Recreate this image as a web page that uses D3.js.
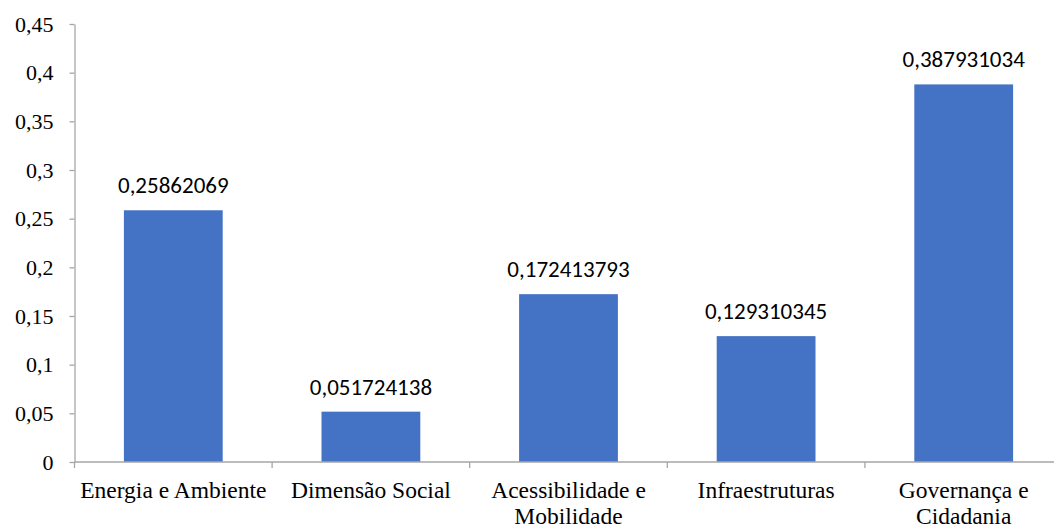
<!DOCTYPE html>
<html>
<head>
<meta charset="utf-8">
<script src="https://cdn.jsdelivr.net/npm/d3@7"></script>
</head>
<body style="margin:0;background:#fff">
<svg id="chart" width="1054" height="527"></svg>
<script>
// Category names (line breaks where the label wraps)
const categories = [
  ["Energia e Ambiente"],
  ["Dimensão Social"],
  ["Acessibilidade e", "Mobilidade"],
  ["Infraestruturas"],
  ["Governança e", "Cidadania"]
];
// Share of each dimension
const values = [0.25862069, 0.051724138, 0.172413793, 0.129310345, 0.387931034];
// Printed value labels
const valueLabels = ["0,25862069", "0,051724138", "0,172413793", "0,129310345", "0,387931034"];
// Y axis ticks
const yTicks = [0, 0.05, 0.1, 0.15, 0.2, 0.25, 0.3, 0.35, 0.4, 0.45];
const yTickLabels = ["0", "0,05", "0,1", "0,15", "0,2", "0,25", "0,3", "0,35", "0,4", "0,45"];

const svg = d3.select("#chart");
const plotLeft = 74.5, plotTop = 24, plotBottom = 462, step = 197.6;
const axisColor = "#a6a6a6";
const serifFamily = "'Liberation Serif', Tinos, 'Times New Roman', Times, serif";

const keys = categories.map((c, i) => i);
const x = d3.scaleBand()
  .domain(keys)
  .range([plotLeft, plotLeft + step * keys.length])
  .paddingInner(0.5)
  .paddingOuter(0.25);

const y = d3.scaleLinear().domain([0, 0.45]).range([plotBottom, plotTop]);

// Y axis
const yAxis = d3.axisLeft(y)
  .tickValues(yTicks)
  .tickFormat((d, i) => yTickLabels[i])
  .tickSize(5)
  .tickPadding(16)
  .tickSizeOuter(0);
const gy = svg.append("g").attr("transform", `translate(${plotLeft},0)`).call(yAxis)
  .attr("font-family", serifFamily)
  .attr("font-size", 22);
gy.select(".domain").attr("stroke", axisColor).attr("stroke-width", 1.3);
gy.selectAll(".tick line").attr("stroke", axisColor).attr("stroke-width", 1.3);
gy.selectAll(".tick text")
  .attr("fill", "#000")
  .attr("font-family", serifFamily)
  .style("font-family", serifFamily);

// Bars
svg.append("g").selectAll("rect")
  .data(values)
  .join("rect")
  .attr("x", (d, i) => x(i))
  .attr("width", x.bandwidth())
  .attr("y", d => y(d))
  .attr("height", d => y(0) - y(d))
  .attr("fill", "#4472C4");

// X axis: baseline and boundary ticks
const xEdges = d3.range(keys.length + 1).map(i => x(0) - x.step() * 0.25 + i * x.step());
svg.append("line")
  .attr("x1", plotLeft).attr("x2", 1054)
  .attr("y1", y(0)).attr("y2", y(0))
  .attr("stroke", axisColor).attr("stroke-width", 1.3);
svg.append("g").selectAll("line")
  .data(xEdges)
  .join("line")
  .attr("x1", d => d).attr("x2", d => d)
  .attr("y1", y(0)).attr("y2", y(0) + 6)
  .attr("stroke", axisColor).attr("stroke-width", 1.3);

// Category labels
const cat = svg.append("g")
  .attr("font-family", serifFamily)
  .selectAll("text")
  .data(categories)
  .join("text")
  .attr("x", (d, i) => x(i) + x.bandwidth() / 2)
  .attr("y", 498)
  .attr("text-anchor", "middle")
  .attr("fill", "#000")
  .attr("font-family", serifFamily)
  .style("font-family", serifFamily)
  .style("font-size", "23.5px");
cat.selectAll("tspan")
  .data(d => d)
  .join("tspan")
  .attr("x", function () { return d3.select(this.parentNode).attr("x"); })
  .attr("dy", (d, i) => i === 0 ? 0 : 25.5)
  .text(d => d);

// Value labels above bars
svg.append("g").selectAll("text")
  .data(values)
  .join("text")
  .attr("x", (d, i) => x(i) + x.bandwidth() / 2)
  .attr("y", d => y(d) - 17)
  .attr("text-anchor", "middle")
  .attr("fill", "#000")
  .style("font-family", "Carlito, Calibri, sans-serif")
  .style("font-size", "23px")
  .text((d, i) => valueLabels[i]);
</script>
</body>
</html>
